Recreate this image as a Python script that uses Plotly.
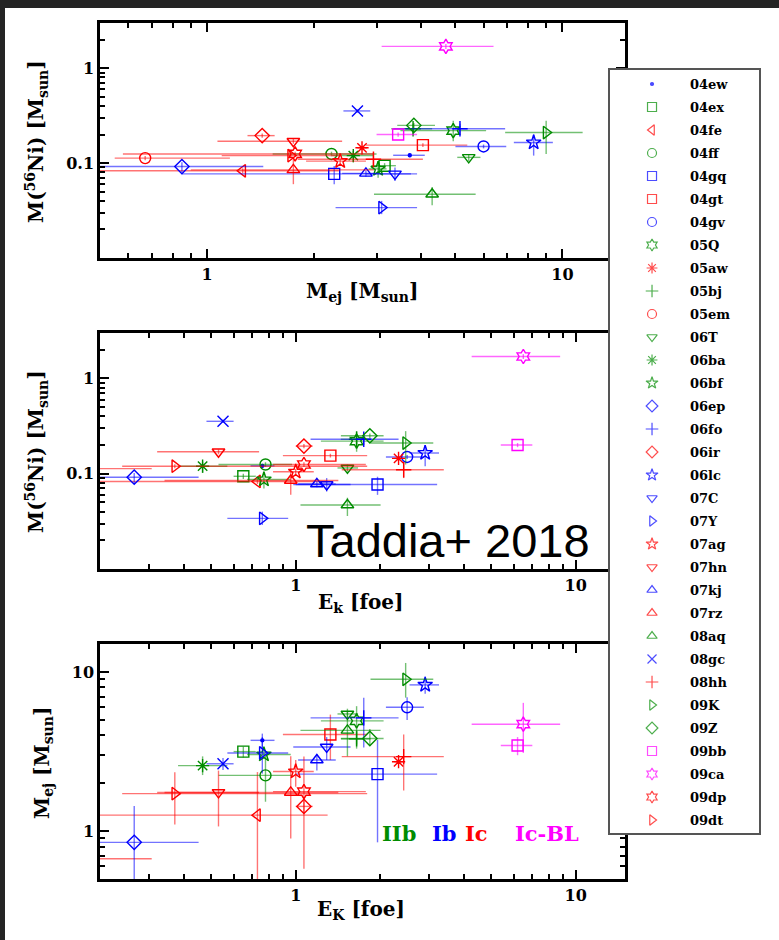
import math
import plotly.graph_objects as go

# ---- supernova sample -------------------------------------------------------
names = ["04ew", "04ex", "04fe", "04ff", "04gq", "04gt", "04gv", "05Q", "05aw", "05bj",
         "05em", "06T", "06ba", "06bf", "06ep", "06fo", "06ir", "06lc", "07C", "07Y",
         "07ag", "07hn", "07kj", "07rz", "08aq", "08gc", "08hh", "09K", "09Z", "09bb",
         "09ca", "09dp", "09dt"]
sn_types = ["Ib", "IIb", "Ic", "IIb", "Ib", "Ic", "Ib", "IIb", "Ic", "IIb",
            "Ic", "IIb", "IIb", "IIb", "Ib", "Ib", "Ic", "Ib", "Ib", "Ib",
            "Ic", "Ic", "Ib", "Ic", "IIb", "Ib", "Ic", "IIb", "IIb", "Ic-BL",
            "Ic-BL", "Ic", "Ic"]
symbols = ["circle", "square-open", "triangle-left-open", "circle-open", "square-open",
           "square-open", "circle-open", "hexagram-open", "asterisk-open", "cross-thin-open",
           "circle-open", "triangle-down-open", "asterisk-open", "star-open", "diamond-open",
           "cross-thin-open", "diamond-open", "star-open", "triangle-down-open", "triangle-right-open",
           "star-open", "triangle-down-open", "triangle-up-open", "triangle-up-open", "triangle-up-open",
           "x-thin-open", "cross-thin-open", "triangle-right-open", "diamond-open", "square-open",
           "hexagram-open", "hexagram-open", "triangle-right-open"]

# kinetic energy [foe]: value, lower bound, upper bound
ek    = [0.76, 0.65, 0.73, 0.78, 1.96, 1.33, 2.50, 1.65, 2.33, 1.65,
         0.15, 1.53, 0.465, 0.77, 0.265, 1.75, 1.07, 2.90, 1.29, 0.76,
         1.00, 0.53, 1.19, 0.96, 1.53, 0.55, 2.43, 2.47, 1.84, 6.20,
         6.50, 1.07, 0.37]
ek_lo = [0.69, 0.60, 0.20, 0.53, 1.00, 0.90, 2.10, 1.23, 2.25, 1.45,
         0.07, 1.41, 0.38, 0.67, 0.20, 1.13, 1.00, 2.55, 0.98, 0.57,
         0.83, 0.32, 1.02, 0.34, 1.04, 0.48, 1.46, 1.85, 1.45, 5.40,
         4.25, 0.83, 0.24]
ek_hi = [0.84, 0.72, 1.30, 0.97, 3.20, 1.80, 2.87, 2.06, 2.42, 1.85,
         0.306, 1.67, 0.57, 0.96, 0.45, 2.33, 1.15, 3.25, 1.57, 0.94,
         1.16, 0.74, 1.39, 1.42, 2.01, 0.60, 3.38, 3.10, 2.06, 7.00,
         8.80, 1.78, 1.80]

# ejecta mass [Msun]
mej    = [3.72, 3.16, 1.26, 2.24, 2.28, 4.05, 6.00, 4.93, 2.73, 3.80,
          0.67, 5.45, 2.58, 3.03, 0.85, 5.15, 1.43, 8.30, 3.38, 3.10,
          2.37, 1.75, 2.80, 1.75, 4.30, 2.65, 2.94, 9.00, 3.82, 3.45,
          4.70, 1.77, 1.72]
mej_lo = [3.34, 2.90, 0.50, 1.53, 0.85, 2.80, 5.00, 3.50, 2.65, 3.30,
          0.55, 5.06, 2.25, 2.85, 0.50, 3.35, 1.30, 7.30, 2.80, 2.30,
          1.90, 1.07, 2.40, 0.90, 2.95, 2.42, 1.80, 6.90, 3.43, 3.00,
          3.10, 0.58, 1.10]
mej_hi = [4.10, 3.40, 2.35, 3.00, 3.75, 5.40, 6.95, 6.10, 2.82, 4.30,
          1.16, 5.88, 2.95, 3.20, 1.44, 6.90, 1.55, 9.40, 3.90, 3.90,
          2.80, 2.40, 3.05, 2.95, 5.70, 2.88, 4.05, 11.4, 4.38, 3.90,
          6.40, 2.94, 2.34]

# 56Ni mass [Msun]
ni    = [0.121, 0.094, 0.083, 0.125, 0.077, 0.155, 0.150, 0.220, 0.145, 0.230,
         0.113, 0.115, 0.120, 0.087, 0.092, 0.230, 0.195, 0.165, 0.077, 0.034,
         0.105, 0.170, 0.078, 0.085, 0.047, 0.355, 0.110, 0.210, 0.250, 0.200,
         1.70, 0.125, 0.120]
ni_lo = [0.115, 0.088, 0.078, 0.118, 0.060, 0.148, 0.143, 0.170, 0.140, 0.200,
         0.107, 0.105, 0.102, 0.070, 0.080, 0.200, 0.185, 0.120, 0.065, 0.029,
         0.098, 0.160, 0.072, 0.060, 0.036, 0.340, 0.090, 0.125, 0.235, 0.190,
         1.60, 0.118, 0.114]
ni_hi = [0.127, 0.100, 0.088, 0.132, 0.093, 0.162, 0.157, 0.280, 0.150, 0.260,
         0.119, 0.125, 0.134, 0.105, 0.102, 0.260, 0.205, 0.200, 0.090, 0.040,
         0.112, 0.180, 0.084, 0.110, 0.056, 0.370, 0.130, 0.280, 0.265, 0.210,
         1.80, 0.132, 0.126]

type_labels = ["IIb", "Ib", "Ic", "Ic-BL"]
type_colors = {"IIb": "rgb(0,140,0)", "Ib": "rgb(0,0,255)",
               "Ic": "rgb(255,0,0)", "Ic-BL": "rgb(255,0,255)"}
bar_colors = {"IIb": "rgba(0,140,0,0.55)", "Ib": "rgba(0,0,255,0.55)",
              "Ic": "rgba(255,0,0,0.55)", "Ic-BL": "rgba(255,0,255,0.6)"}

W, H = 779, 940
SERIF = "DejaVu Serif"

# legend column: vertical extent in legend-row units
LEG_TOP, LEG_BOTTOM = -0.609, 32.565


def px_x(p):
    return p / W


def px_y(p):
    return 1 - p / H


fig = go.Figure()


def add_points(xs, xlo, xhi, ys, ylo, yhi, xa, ya):
    for i, name in enumerate(names):
        t = sn_types[i]
        c = type_colors[t]
        is_dot = symbols[i] == "circle"
        fig.add_trace(go.Scatter(
            x=[xs[i]], y=[ys[i]], mode="markers", name=name, showlegend=False,
            xaxis=xa, yaxis=ya,
            marker=dict(symbol=symbols[i], size=3 if is_dot else 11, color=c,
                        line=dict(color=c, width=1.4)),
            error_x=dict(type="data", symmetric=False,
                         array=[xhi[i] - xs[i]], arrayminus=[xs[i] - xlo[i]],
                         color=bar_colors[t], thickness=1.4, width=0),
            error_y=dict(type="data", symmetric=False,
                         array=[yhi[i] - ys[i]], arrayminus=[ys[i] - ylo[i]],
                         color=bar_colors[t], thickness=1.4, width=0),
        ))


add_points(mej, mej_lo, mej_hi, ni, ni_lo, ni_hi, "x", "y")
add_points(ek, ek_lo, ek_hi, ni, ni_lo, ni_hi, "x2", "y2")
add_points(ek, ek_lo, ek_hi, mej, mej_lo, mej_hi, "x3", "y3")

# legend column drawn as its own small panel
fig.add_trace(go.Scatter(
    x=[0.282] * len(names), y=list(range(len(names))), mode="markers",
    xaxis="x4", yaxis="y4", showlegend=False,
    marker=dict(symbol=symbols,
                size=[3 if s == "circle" else 9 for s in symbols],
                color=[type_colors[t] for t in sn_types],
                line=dict(color=[type_colors[t] for t in sn_types], width=1.2)),
))

tick_font = dict(family=SERIF, size=16, color="black", weight="bold")


def log_axis(lo, hi, major, minor, domain, anchor):
    return dict(type="log", range=[math.log10(lo), math.log10(hi)], domain=domain,
                anchor=anchor, tickmode="array", tickvals=major,
                ticktext=[("%g" % v) for v in major],
                ticks="inside", ticklen=9, tickwidth=2, tickcolor="black",
                minor=dict(tickmode="array", tickvals=minor, ticks="inside",
                           ticklen=5, tickwidth=1.5, tickcolor="black"),
                showline=True, linewidth=2.5, linecolor="black", mirror="ticks",
                showgrid=False, zeroline=False, tickfont=tick_font)


minor_mej = [0.5, 0.6, 0.7, 0.8, 0.9, 2, 3, 4, 5, 6, 7, 8, 9]
minor_ek = [0.2, 0.3, 0.4, 0.5, 0.6, 0.7, 0.8, 0.9, 2, 3, 4, 5, 6, 7, 8, 9]
minor_ni = [0.02, 0.03, 0.04, 0.05, 0.06, 0.07, 0.08, 0.09,
            0.2, 0.3, 0.4, 0.5, 0.6, 0.7, 0.8, 0.9, 2, 3]
minor_mej_y = [0.5, 0.6, 0.7, 0.8, 0.9, 2, 3, 4, 5, 6, 7, 8, 9]

xdom = [px_x(100), px_x(625)]
p1 = [px_y(258), px_y(23)]
p2 = [px_y(569), px_y(333)]
p3 = [px_y(879), px_y(644)]

fig.update_layout(
    xaxis=log_axis(0.5, 15, [1, 10], minor_mej, xdom, "y"),
    yaxis=log_axis(0.01, 3, [0.1, 1], minor_ni, p1, "x"),
    xaxis2=log_axis(0.2, 15, [1, 10], minor_ek, xdom, "y2"),
    yaxis2=log_axis(0.01, 3, [0.1, 1], minor_ni, p2, "x2"),
    xaxis3=log_axis(0.2, 15, [1, 10], minor_ek, xdom, "y3"),
    yaxis3=log_axis(0.5, 15, [1, 10], minor_mej_y, p3, "x3"),
    xaxis4=dict(domain=[px_x(610), px_x(759)], range=[0, 1], anchor="y4",
                showgrid=False, zeroline=False, showticklabels=False, ticks="",
                showline=True, mirror=True, linecolor="#555", linewidth=2),
    yaxis4=dict(domain=[px_y(833), px_y(70)], range=[LEG_BOTTOM, LEG_TOP], anchor="x4",
                showgrid=False, zeroline=False, showticklabels=False, ticks="",
                showline=True, mirror=True, linecolor="#555", linewidth=2),
)

shapes = [
    # white backing for the legend column
    dict(type="rect", xref="x4", yref="y4", x0=0, x1=1, y0=LEG_BOTTOM, y1=LEG_TOP,
         fillcolor="white", line=dict(width=0), layer="between"),
    # dark frame around the page
    dict(type="rect", xref="paper", yref="paper", x0=0, x1=px_x(5), y0=0, y1=1,
         fillcolor="#242424", line=dict(width=0), layer="above"),
    dict(type="rect", xref="paper", yref="paper", x0=0, x1=1, y0=px_y(8), y1=1,
         fillcolor="#242424", line=dict(width=0), layer="above"),
]

title_font = dict(family=SERIF, size=20, color="black")
annotations = []


def title(text, x, y, angle=0):
    annotations.append(dict(text="<b>%s</b>" % text, xref="paper", yref="paper",
                            x=px_x(x), y=px_y(y), showarrow=False, textangle=angle,
                            xanchor="center", yanchor="middle", font=title_font))


title("M<sub>ej</sub> [M<sub>sun</sub>]", 362, 292)
title("E<sub>k</sub> [foe]", 361, 603)
title("E<sub>K</sub> [foe]", 361, 910)
title("M(<sup>56</sup>Ni) [M<sub>sun</sub>]", 37, 142, -90)
title("M(<sup>56</sup>Ni) [M<sub>sun</sub>]", 37, 452, -90)
title("M<sub>ej</sub> [M<sub>sun</sub>]", 43, 763, -90)

annotations.append(dict(text="Taddia+ 2018", xref="paper", yref="paper",
                        x=px_x(448), y=px_y(540), showarrow=False,
                        xanchor="center", yanchor="middle",
                        font=dict(family="Liberation Sans", size=47, color="black")))

type_x = [380, 430, 463, 513]
for lab, xp in zip(type_labels, type_x):
    annotations.append(dict(text="<b>%s</b>" % lab, xref="paper", yref="paper",
                            x=px_x(xp), y=px_y(833), showarrow=False,
                            xanchor="left", yanchor="middle",
                            font=dict(family=SERIF, size=21, color=type_colors[lab])))

for i, name in enumerate(names):
    annotations.append(dict(text="<b>%s</b>" % name, xref="x4", yref="y4",
                            x=0.523, y=i, showarrow=False, xanchor="left",
                            yanchor="middle",
                            font=dict(family=SERIF, size=13, color="black")))

fig.update_layout(
    width=W, height=H, margin=dict(l=0, r=0, t=0, b=0),
    paper_bgcolor="white", plot_bgcolor="white",
    shapes=shapes, annotations=annotations, showlegend=False,
)

fig.write_html("out.html")
